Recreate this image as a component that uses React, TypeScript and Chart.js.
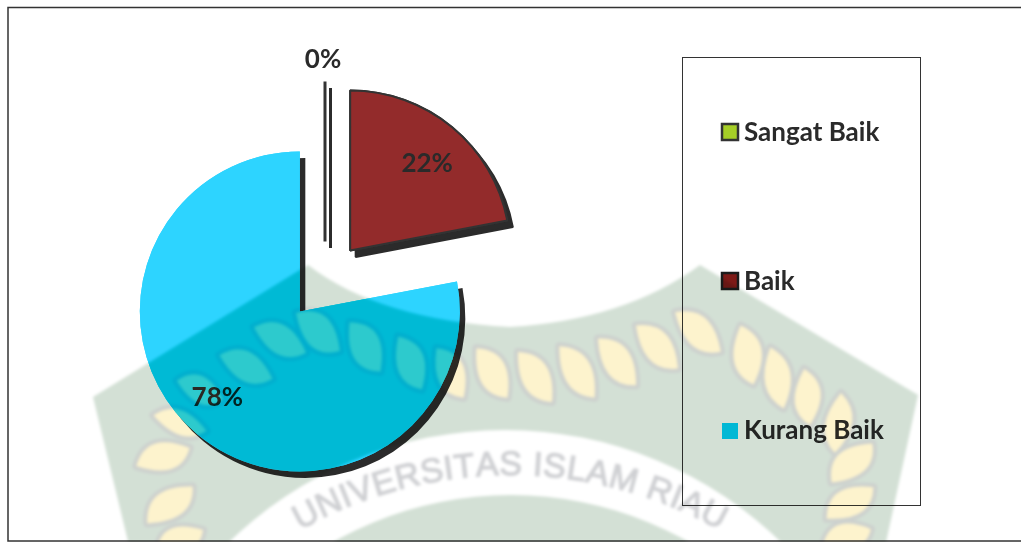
import React, { useEffect, useRef } from "react";
import Chart from "chart.js/auto";

const categories = ["Sangat Baik", "Baik", "Kurang Baik"];
const values = [0, 22, 78];
const percentLabels = ["0%", "22%", "78%"];
const sliceColors = ["#A6CE27", "#932B2B", "#2DD4FF"];
const sliceBorders = ["#333333", "#333333", "#2DD4FF"];
const legendFills = ["#A6CE27", "#7E1A17", "#00D2FF"];
const legendBorders = ["#333333", "#1c1c1c", ""];
const explosion = [39.5, 39.5, 39.5];
const labelRadius = [1.135, 0.725, 0.74];
const labelShift = [[-2, 0], [3, 2], [-7, -5]];
const legendRows = [132, 281, 430];

const leaves: number[][] = [
  [280, 340, 58, 24, 20], [318, 332, 58, 26, 35], [365, 347, 58, 26, 52], [410, 363, 58, 24, 60],
  [450, 373, 56, 24, 55], [492, 373, 58, 24, 52], [246, 367, 58, 24, 18], [200, 390, 50, 22, 15],
  [180, 423, 55, 20, 10], [163, 457, 56, 24, -25], [170, 505, 58, 24, -45], [180, 540, 50, 22, -30],
  [535, 377, 60, 24, 50], [577, 372, 62, 24, 50], [617, 362, 60, 24, 45], [657, 347, 60, 24, 40],
  [698, 332, 60, 24, 35], [747, 355, 60, 24, 72], [777, 378, 62, 22, 72], [807, 397, 56, 22, 78],
  [838, 423, 60, 22, 90], [852, 463, 56, 24, -50], [850, 503, 56, 24, -40], [847, 537, 50, 22, -25],
];

function paintLayer(w: number, h: number, green: string, halo: string, leaf: string, ink: string) {
  const off = document.createElement("canvas");
  off.width = w;
  off.height = h;
  const c = off.getContext("2d") as CanvasRenderingContext2D;
  c.fillStyle = "#ffffff";
  c.fillRect(0, 0, w, h);
  c.fillStyle = green;
  c.beginPath();
  c.moveTo(93, 397);
  c.lineTo(308, 265);
  c.quadraticCurveTo(380, 320, 510, 327);
  c.quadraticCurveTo(625, 320, 700, 265);
  c.lineTo(918, 395);
  c.lineTo(880, 570);
  c.lineTo(135, 570);
  c.closePath();
  c.fill();
  c.fillStyle = "#ffffff";
  c.beginPath();
  c.arc(505, 826, 396, 0, Math.PI * 2);
  c.arc(511, 855, 360, 0, Math.PI * 2);
  c.fill("evenodd");
  leaves.forEach(([x, y, len, wid, ang]) => {
    c.save();
    c.translate(x, y);
    c.rotate((ang * Math.PI) / 180);
    c.beginPath();
    c.moveTo(-len / 2, -3);
    c.quadraticCurveTo(-4, -wid * 1.3, len / 2, 3);
    c.quadraticCurveTo(6, wid * 1.2, -len / 2, -3);
    c.closePath();
    c.strokeStyle = halo;
    c.lineWidth = 8;
    c.lineJoin = "round";
    c.stroke();
    c.fillStyle = leaf;
    c.fill();
    c.restore();
  });
  const text = "UNIVERSITAS ISLAM RIAU";
  const cx = 510;
  const cy = 903;
  const R = 428;
  c.font = '34px "Liberation Sans"';
  c.fillStyle = ink;
  c.strokeStyle = ink;
  c.lineWidth = 1.2;
  c.textAlign = "center";
  c.textBaseline = "alphabetic";
  const widths = [...text].map((ch) => c.measureText(ch).width);
  const sum = widths.reduce((a, b) => a + b, 0);
  const gap = (439 - sum) / (text.length - 1);
  let pos = -219.5;
  [...text].forEach((ch, i) => {
    const a = (pos + widths[i] / 2) / R;
    c.save();
    c.translate(cx + R * Math.sin(a), cy - R * Math.cos(a));
    c.rotate(a);
    c.fillText(ch, 0, 0);
    c.strokeText(ch, 0, 0);
    c.restore();
    pos += widths[i] + gap;
  });
  return off;
}

function drawWatermark(ctx: CanvasRenderingContext2D, w: number, h: number, arc: any) {
  ctx.save();
  ctx.globalCompositeOperation = "multiply";
  ctx.filter = "blur(1.8px)";
  ctx.drawImage(paintLayer(w, h, "#D3E0D5", "#CDD1CE", "#FDF3CD", "#CFD0D3"), 0, 0);
  ctx.restore();
  ctx.save();
  ctx.beginPath();
  ctx.moveTo(arc.x, arc.y);
  ctx.arc(arc.x, arc.y, arc.outerRadius, arc.startAngle, arc.endAngle);
  ctx.closePath();
  ctx.clip();
  ctx.globalCompositeOperation = "multiply";
  ctx.filter = "blur(1.8px)";
  ctx.drawImage(paintLayer(w, h, "#00FFFF", "#00FFFF", "#ffffff", "#ffffff"), 0, 0);
  ctx.restore();
}

const piePlugin = {
  id: "piePlugin",
  afterDatasetsUpdate(chart: any) {
    chart.getDatasetMeta(0).data.forEach((arc: any, i: number) => {
      const mid = (arc.startAngle + arc.endAngle) / 2;
      arc.x += Math.cos(mid) * explosion[i];
      arc.y += Math.sin(mid) * explosion[i];
    });
  },
  beforeDraw(chart: any) {
    const c = chart.ctx;
    c.save();
    c.fillStyle = "#ffffff";
    c.fillRect(0, 0, chart.width, chart.height);
    c.restore();
  },
  beforeDatasetsDraw(chart: any) {
    const c = chart.ctx;
    c.save();
    c.shadowColor = "#2b2b2b";
    c.shadowOffsetX = 5.5;
    c.shadowOffsetY = 6.5;
    c.shadowBlur = 0;
    chart.getDatasetMeta(0).data.forEach((arc: any, i: number) => {
      if (values[i] !== 0) return;
      c.beginPath();
      c.moveTo(arc.x, arc.y);
      c.lineTo(arc.x + Math.cos(arc.startAngle) * arc.outerRadius, arc.y + Math.sin(arc.startAngle) * arc.outerRadius);
      c.lineWidth = 3;
      c.strokeStyle = sliceBorders[i];
      c.stroke();
    });
  },
  afterDatasetsDraw(chart: any) {
    const c = chart.ctx;
    c.restore();
    const arcs = chart.getDatasetMeta(0).data;
    arcs.forEach((arc: any, i: number) => {
      if (values[i] !== 0) arc.draw(c);
    });
    c.save();
    c.font = "bold 26px Lato";
    c.fillStyle = "#2a2a2a";
    c.textAlign = "center";
    c.textBaseline = "middle";
    arcs.forEach((arc: any, i: number) => {
      const mid = (arc.startAngle + arc.endAngle) / 2;
      const r = arc.outerRadius * labelRadius[i];
      c.fillText(percentLabels[i], arc.x + Math.cos(mid) * r + labelShift[i][0], arc.y + Math.sin(mid) * r + labelShift[i][1]);
    });
    c.strokeStyle = "#333333";
    c.lineWidth = 1;
    c.strokeRect(682.5, 57.5, 238, 448);
    categories.forEach((name, i) => {
      const y = legendRows[i];
      if (legendBorders[i]) {
        c.fillStyle = legendFills[i];
        c.fillRect(722, y - 8, 16, 16);
        c.strokeStyle = legendBorders[i];
        c.lineWidth = 2.5;
        c.strokeRect(722, y - 8, 16, 16);
      } else {
        c.fillStyle = legendFills[i];
        c.fillRect(722, y - 7, 16, 16);
      }
      c.fillStyle = "#2a2a2a";
      c.textAlign = "left";
      c.textBaseline = "alphabetic";
      c.font = "bold 26px Lato";
      c.fillText(name, 744, y + 9);
    });
    c.strokeStyle = "#333333";
    c.lineWidth = 1.5;
    c.strokeRect(8, 7.5, 1100, 533.5);
    c.restore();
    drawWatermark(c, chart.width, chart.height, arcs[2]);
  },
};

export default function App() {
  const ref = useRef<HTMLCanvasElement>(null);
  useEffect(() => {
    document.body.style.margin = "0";
    const chart = new Chart(ref.current as HTMLCanvasElement, {
      type: "pie",
      data: {
        labels: categories,
        datasets: [
          {
            data: values,
            backgroundColor: sliceColors,
            borderColor: sliceBorders,
            borderWidth: [0, 2, 0],
            borderAlign: "center",
          },
        ],
      },
      options: {
        responsive: false,
        animation: false,
        radius: 160,
        layout: { padding: { top: 20, right: 371 } },
        plugins: { legend: { display: false }, tooltip: { enabled: false } },
      } as any,
      plugins: [piePlugin as any],
    });
    return () => chart.destroy();
  }, []);
  return <canvas ref={ref} width={1021} height={542} style={{ display: "block" }} />;
}
